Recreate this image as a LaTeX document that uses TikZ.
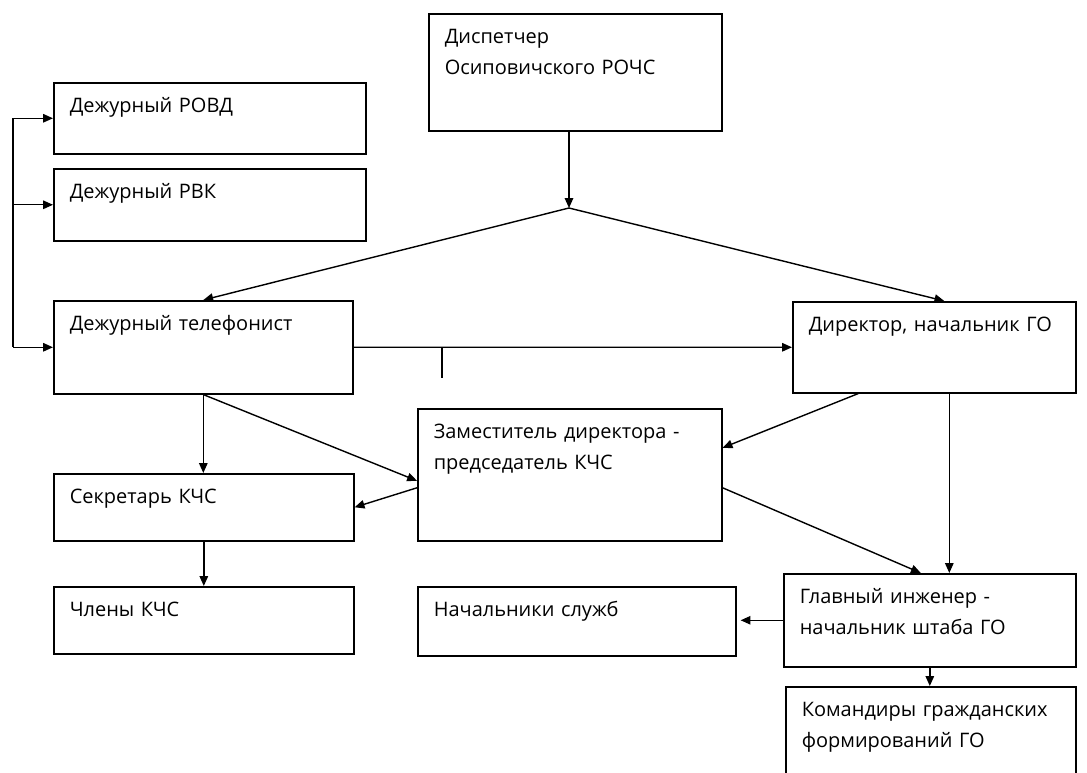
\documentclass[tikz,border=0pt]{standalone}
\usepackage{fontspec}
\setmainfont{Open Sans}
\usetikzlibrary{arrows.meta}

\begin{document}
\begin{tikzpicture}[x=0.025cm, y=-0.025cm,
    blk/.style={draw, line width=1.1pt, anchor=north west, align=left,
      inner xsep=0.4cm, inner ysep=0.2cm, text height=0.55cm,
      font=\fontsize{14.2}{22}\selectfont},
    arr/.style={-{Triangle[length=7pt,width=6pt]}, line width=1pt}]
  \useasboundingbox (0,0) rectangle (1087,773);
  \clip (0,0) rectangle (1087,773);
  % boxes
  \node[blk, text width=6.525cm, text depth=1.975cm] (disp) at (428,13) {Диспетчер\\Осиповичского РОЧС};
  \node[blk, text width=7.0cm, text depth=0.825cm] (rovd) at (53,82) {Дежурный РОВД};
  \node[blk, text width=7.0cm, text depth=0.85cm] (rvk) at (53,168) {Дежурный РВК};
  \node[blk, text width=6.675cm, text depth=1.375cm] (tel) at (53,300) {Дежурный телефонист};
  \node[blk, text width=6.275cm, text depth=1.325cm] (dir) at (792,301) {Директор, начальник ГО};
  \node[blk, text width=6.8cm, text depth=2.35cm] (zam) at (417,408) {Заместитель директора -\\председатель КЧС};
  \node[blk, text width=6.7cm, text depth=0.725cm] (sekr) at (53,473) {Секретарь КЧС};
  \node[blk, text width=6.7cm, text depth=0.725cm] (chl) at (53,586) {Члены КЧС};
  \node[blk, text width=7.15cm, text depth=0.775cm] (nach) at (417,586) {Начальники служб};
  \node[blk, text width=6.5cm, text depth=1.375cm] (glav) at (783,573) {Главный инженер -\\начальник штаба ГО};
  \node[blk, text width=6.45cm, text depth=1.55cm] (kom) at (785,686) {Командиры гражданских\\формирований ГО};

  % connectors
  \coordinate (hub) at (569,208);
  \coordinate (rail) at (13,0);
  \coordinate (tick) at (442,378);
  \draw[arr] (hub |- disp.south) -- (hub);
  \draw[arr] (hub) -- (tel.north);
  \draw[arr] (hub) -- ([xshift=0.25cm]dir.north);
  \draw[line width=1pt] (rail |- rovd.west) -- (rail |- tel.west);
  \draw[arr] (rail |- rovd.west) -- (rovd.west);
  \draw[arr] (rail |- rvk.west) -- (rvk.west);
  \draw[arr] (rail |- tel.west) -- (tel.west);
  \draw[arr] (tel.east) -- (dir.west);
  \draw[line width=1pt] (tick) -- (tick |- tel.east);
  \draw[arr] (tel.south) -- (tel.south |- sekr.north);
  \draw[arr] (tel.south) -- ([yshift=-0.15cm]zam.west);
  \draw[arr] ([yshift=-0.325cm]zam.west) -- (sekr.east);
  \draw[arr, {Triangle[length=7pt,width=6pt]}-] ([yshift=0.675cm]zam.east) -- ([xshift=-1.9cm]dir.south);
  \draw[arr] ([yshift=-0.325cm]zam.east) -- ([xshift=-0.225cm]glav.north);
  \draw[arr] ([xshift=0.375cm]dir.south) -- ([xshift=0.375cm]dir.south |- glav.north);
  \draw[arr, shorten >=0.1cm] (glav.west) -- (glav.west -| nach.east);
  \draw[arr] (glav.south) -- (glav.south |- kom.north);
  \draw[arr] (sekr.south) -- (chl.north);
\end{tikzpicture}
\end{document}
